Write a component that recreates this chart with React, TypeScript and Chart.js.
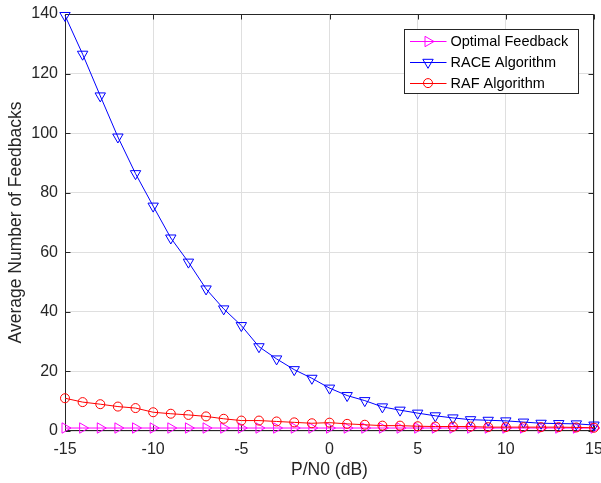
import React, { useEffect, useRef } from 'react';
import { Chart, registerables } from 'chart.js';

Chart.register(...registerables);

const snr = [-15, -14, -13, -12, -11, -10, -9, -8, -7, -6, -5, -4, -3, -2, -1, 0, 1, 2, 3, 4, 5, 6, 7, 8, 9, 10, 11, 12, 13, 14, 15];
const optimalFeedback = [1, 1, 1, 1, 1, 1, 1, 1, 1, 1, 1, 1, 1, 1, 1, 1, 1, 1, 1, 1, 1, 1, 1, 1, 1, 1, 1, 1, 1, 1, 1];
const raceAlgorithm = [139.5, 126.5, 112.5, 98.7, 86.4, 75.5, 64.8, 56.7, 47.7, 41, 35.4, 28.3, 24.2, 20.6, 17.7, 14.4, 11.9, 10.2, 8.1, 7.0, 6.0, 5.1, 4.4, 3.8, 3.6, 3.4, 3.0, 2.6, 2.5, 2.4, 2.0];
const rafAlgorithm = [11.0, 9.7, 9.0, 8.2, 7.7, 6.3, 5.8, 5.4, 4.9, 4.1, 3.5, 3.5, 3.2, 2.9, 2.6, 2.8, 2.4, 2.1, 1.8, 1.8, 1.6, 1.5, 1.5, 1.5, 1.3, 1.3, 1.3, 1.3, 1.3, 1.2, 1.1];
const xTickValues = [-15, -10, -5, 0, 5, 10, 15];
const yTickValues = [0, 20, 40, 60, 80, 100, 120, 140];
const legendLabels = ['Optimal Feedback', 'RACE Algorithm', 'RAF Algorithm'];

const FONT = '"Liberation Sans", Arial, sans-serif';
const AXIS = '#262626';
const GRID = '#dfdfdf';
const MAGENTA = '#ff00ff';
const BLUE = '#0000ff';
const RED = '#ff0000';

function drawMarker(ctx: CanvasRenderingContext2D, style: string, rot: number, r: number, x: number, y: number) {
  ctx.beginPath();
  if (style === 'circle') {
    ctx.arc(x, y, r, 0, Math.PI * 2);
  } else {
    let a = (rot * Math.PI) / 180;
    for (let i = 0; i < 3; i++) {
      const px = x + Math.sin(a) * r;
      const py = y - Math.cos(a) * r;
      if (i === 0) ctx.moveTo(px, py);
      else ctx.lineTo(px, py);
      a += (2 * Math.PI) / 3;
    }
    ctx.closePath();
  }
  ctx.stroke();
}

const framePlugin = {
  id: 'frame',
  beforeDatasetsDraw(chart: any) {
    const { ctx, chartArea } = chart;
    const { left, right, top, bottom } = chartArea;
    const xs = chart.scales.x;
    const ys = chart.scales.y;
    ctx.save();
    ctx.strokeStyle = AXIS;
    ctx.lineWidth = 1;
    const L = Math.round(left) + 0.5;
    const R = Math.round(right) - 0.5;
    const T = Math.round(top) + 0.5;
    const B = Math.round(bottom) - 0.5;
    ctx.beginPath();
    ctx.moveTo(L, T);
    ctx.lineTo(R, T);
    ctx.lineTo(R, B);
    ctx.lineTo(L, B);
    ctx.closePath();
    ctx.stroke();
    const tl = 5;
    ctx.beginPath();
    xTickValues.forEach((v) => {
      const px = Math.round(xs.getPixelForValue(v)) + 0.5;
      ctx.moveTo(px, B);
      ctx.lineTo(px, B - tl);
      ctx.moveTo(px, T);
      ctx.lineTo(px, T + tl);
    });
    yTickValues.forEach((v) => {
      const py = Math.round(ys.getPixelForValue(v)) + 0.5;
      ctx.moveTo(L, py);
      ctx.lineTo(L + tl, py);
      ctx.moveTo(R, py);
      ctx.lineTo(R - tl, py);
    });
    ctx.stroke();
    ctx.restore();
  },
  afterDraw(chart: any) {
    const { ctx, chartArea } = chart;
    const bw = 174;
    const bh = 64;
    const bx = Math.round(chartArea.right - 16 - bw) + 0.5;
    const by = Math.round(chartArea.top + 15) + 0.5;
    ctx.save();
    ctx.fillStyle = '#ffffff';
    ctx.fillRect(bx, by, bw, bh);
    ctx.strokeStyle = AXIS;
    ctx.lineWidth = 1;
    ctx.strokeRect(bx, by, bw, bh);
    const styles = [
      { color: MAGENTA, style: 'triangle', rot: 90, r: 6 },
      { color: BLUE, style: 'triangle', rot: 180, r: 6 },
      { color: RED, style: 'circle', rot: 0, r: 4.5 },
    ];
    ctx.font = `14.5px ${FONT}`;
    ctx.textBaseline = 'middle';
    ctx.textAlign = 'left';
    legendLabels.forEach((label, i) => {
      const cy = by + 11.5 + i * 20.8;
      const s = styles[i];
      ctx.strokeStyle = s.color;
      ctx.lineWidth = 1;
      ctx.beginPath();
      ctx.moveTo(bx + 5.5, Math.round(cy) + 0.5);
      ctx.lineTo(bx + 42, Math.round(cy) + 0.5);
      ctx.stroke();
      drawMarker(ctx, s.style, s.rot, s.r, bx + 23.5, cy + 0.5);
      ctx.fillStyle = '#000000';
      ctx.fillText(label, bx + 46, cy + 1);
    });
    ctx.restore();
  },
};

export default function App() {
  const ref = useRef<HTMLCanvasElement | null>(null);
  useEffect(() => {
    if (!ref.current) return;
    const mk = (vals: number[]) => snr.map((x, i) => ({ x, y: vals[i] }));
    const chart = new Chart(ref.current, {
      type: 'line',
      data: {
        datasets: [
          {
            label: legendLabels[0],
            data: mk(optimalFeedback),
            borderColor: MAGENTA,
            backgroundColor: 'rgba(0,0,0,0)',
            pointBorderColor: MAGENTA,
            pointBackgroundColor: 'rgba(0,0,0,0)',
            pointStyle: 'triangle',
            pointRotation: 90,
            pointRadius: 6,
            pointBorderWidth: 1,
            borderWidth: 1,
            tension: 0,
            order: 2,
            clip: false,
          } as any,
          {
            label: legendLabels[1],
            data: mk(raceAlgorithm),
            borderColor: BLUE,
            backgroundColor: 'rgba(0,0,0,0)',
            pointBorderColor: BLUE,
            pointBackgroundColor: 'rgba(0,0,0,0)',
            pointStyle: 'triangle',
            pointRotation: 180,
            pointRadius: 6,
            pointBorderWidth: 1,
            borderWidth: 1,
            tension: 0,
            order: 1,
            clip: false,
          } as any,
          {
            label: legendLabels[2],
            data: mk(rafAlgorithm),
            borderColor: RED,
            backgroundColor: 'rgba(0,0,0,0)',
            pointBorderColor: RED,
            pointBackgroundColor: 'rgba(0,0,0,0)',
            pointStyle: 'circle',
            pointRadius: 4.5,
            pointBorderWidth: 1,
            borderWidth: 1,
            tension: 0,
            order: 0,
            clip: false,
          } as any,
        ],
      },
      options: {
        animation: false,
        responsive: false,
        devicePixelRatio: 1,
        layout: { padding: { top: 14, right: 4, left: 0, bottom: 0 } },
        plugins: { legend: { display: false }, tooltip: { enabled: false } },
        scales: {
          x: {
            type: 'linear',
            min: -15,
            max: 15,
            afterBuildTicks: (s: any) => {
              s.ticks = xTickValues.map((v) => ({ value: v }));
            },
            afterFit: (s: any) => {
              s.height = 52;
              s.paddingLeft = 0;
              s.paddingRight = 0;
            },
            grid: { color: GRID, lineWidth: 1, drawTicks: false },
            border: { display: false },
            ticks: {
              autoSkip: false,
              maxRotation: 0,
              padding: 9,
              color: AXIS,
              font: { family: FONT, size: 16 },
            },
            title: {
              display: true,
              text: 'P/N0 (dB)',
              color: AXIS,
              font: { family: FONT, size: 17.5 },
              padding: { top: 0, bottom: 2 },
            },
          },
          y: {
            type: 'linear',
            min: 0,
            max: 140,
            afterBuildTicks: (s: any) => {
              s.ticks = yTickValues.map((v) => ({ value: v }));
            },
            afterFit: (s: any) => {
              s.width = 65;
              s.paddingTop = 0;
              s.paddingBottom = 0;
            },
            grid: { color: GRID, lineWidth: 1, drawTicks: false },
            border: { display: false },
            ticks: {
              padding: 7,
              color: AXIS,
              font: { family: FONT, size: 16 },
            },
            title: {
              display: true,
              text: 'Average Number of Feedbacks',
              color: AXIS,
              font: { family: FONT, size: 17.5 },
              padding: { top: 6, bottom: 0 },
            },
          },
        },
      } as any,
      plugins: [framePlugin],
    });
    return () => chart.destroy();
  }, []);
  return (
    <div style={{ position: 'fixed', left: 0, top: 0, width: 601, height: 483, background: '#ffffff' }}>
      <canvas ref={ref} width={601} height={483} style={{ display: 'block', width: 601, height: 483 }} />
    </div>
  );
}
